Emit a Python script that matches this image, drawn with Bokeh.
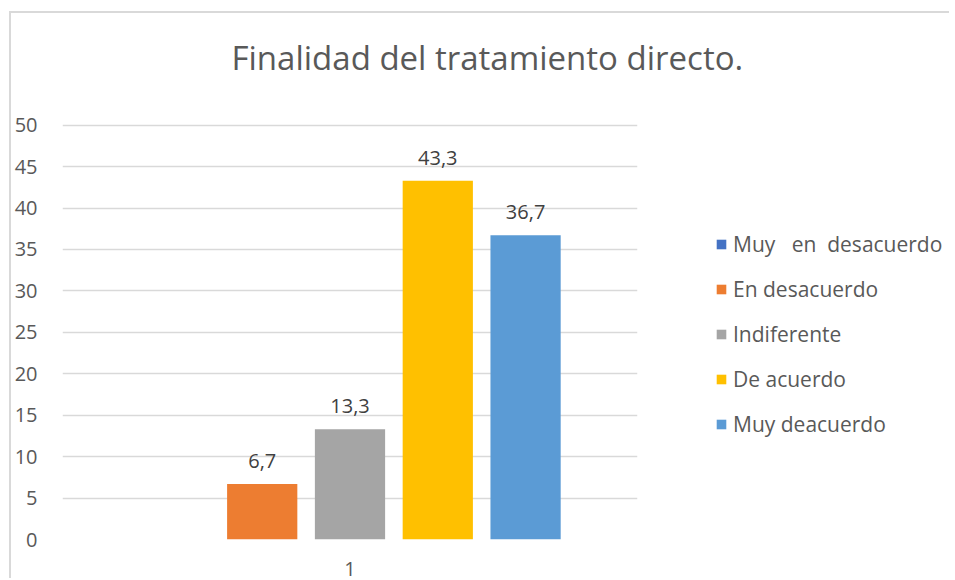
from bokeh.plotting import figure
from bokeh.models import ColumnDataSource, Range1d, FixedTicker, Legend, LegendItem, Title
from bokeh.embed import file_html
from bokeh.resources import INLINE
from bokeh.core.properties import value

title_text = "Finalidad del  tratamiento directo."
group_label = "1"
categories = ["Muy   en  desacuerdo", "En desacuerdo", "Indiferente", "De acuerdo", "Muy deacuerdo"]
values = [0, 6.7, 13.3, 43.3, 36.7]
colors = ["#4472C4", "#ED7D31", "#A5A5A5", "#FFC000", "#5B9BD5"]
y_ticks = [0, 5, 10, 15, 20, 25, 30, 35, 40, 45, 50]

FONT = "Open Sans"
TXT = "#595959"
GRID = "#d9d9d9"
W, H = 940, 567

n = len(categories)
xs = list(range(n))
center = (n - 1) // 2

src = ColumnDataSource(dict(x=xs, top=values, color=colors, cat=categories))
lab_x = [x for x, v in zip(xs, values) if v]
lab_y = [v for v in values if v]
lab_t = [("%.1f" % v).replace(".", ",") for v in values if v]
lab_src = ColumnDataSource(dict(x=lab_x, y=lab_y, t=lab_t))

# ---------------- main chart ----------------
p = figure(width=W, height=H, output_backend="svg", toolbar_location=None,
           x_range=Range1d(center - 3.275, center + 3.275), y_range=Range1d(0, 50.2),
           min_border_left=49, min_border_right=314, min_border_top=110, min_border_bottom=41,
           styles={"border-top": "2px solid #d9d9d9", "border-left": "2px solid #d9d9d9",
                   "margin-top": "11px", "margin-left": "9px"})
p.background_fill_color = "white"
p.border_fill_color = "white"
p.outline_line_color = None

r = p.vbar(x="x", top="top", bottom=0, width=0.8, source=src, fill_color="color", line_color=None)
p.text(x="x", y="y", text="t", source=lab_src, text_align="center", text_baseline="middle",
       y_offset=-23, text_font=value(FONT), text_font_size="20px", text_color="#404040")

spacer = Title(text=" ", text_font_size="20px", standoff=20)
main_title = Title(text=title_text, align="left", offset=169, standoff=0,
                   text_font=FONT, text_font_size="33px", text_font_style="normal",
                   text_color=TXT)
p.add_layout(spacer, "above")
p.add_layout(main_title, "above")

p.xgrid.grid_line_color = None
p.ygrid.grid_line_color = GRID
p.ygrid.grid_line_width = 1.5

p.yaxis.ticker = FixedTicker(ticks=y_ticks)
p.yaxis.axis_line_color = None
p.yaxis.major_tick_line_color = None
p.yaxis.minor_tick_line_color = None
p.yaxis.major_label_standoff = 19
p.yaxis.major_label_text_font = FONT
p.yaxis.major_label_text_font_size = "20px"
p.yaxis.major_label_text_color = TXT

p.xaxis.ticker = FixedTicker(ticks=[center])
p.xaxis.major_label_overrides = {center: group_label}
p.xaxis.axis_line_color = None
p.xaxis.major_tick_line_color = None
p.xaxis.minor_tick_line_color = None
p.xaxis.major_label_standoff = 16
p.xaxis.major_label_text_font = FONT
p.xaxis.major_label_text_font_size = "20px"
p.xaxis.major_label_text_color = TXT

# ---------------- legend panel (overlaid on the right of the chart) ----------------
lg = figure(width=236, height=215, output_backend="svg", toolbar_location=None,
            x_range=Range1d(-100, -99), y_range=Range1d(-100, -99),
            x_axis_location=None, y_axis_location=None,
            min_border_left=0, min_border_right=0, min_border_top=0, min_border_bottom=0,
            styles={"position": "absolute", "left": "715px", "top": "230px"})
lg.background_fill_alpha = 0
lg.border_fill_alpha = 0
lg.outline_line_color = None
lg.grid.grid_line_color = None
rl = lg.vbar(x="x", top="top", bottom=0, width=0.8, source=src, fill_color="color", line_color=None)

items = [LegendItem(label=c, renderers=[rl], index=i) for i, c in enumerate(categories)]
legend = Legend(items=items, location="top_left", orientation="vertical",
                glyph_width=12, glyph_height=12, label_standoff=6, spacing=17,
                label_height=27, padding=0, margin=0, border_line_color=None,
                background_fill_alpha=0, label_text_font=FONT,
                label_text_font_size="21px", label_text_color=TXT)
lg.add_layout(legend)

open("out.html", "w").write(file_html([p, lg], INLINE))
